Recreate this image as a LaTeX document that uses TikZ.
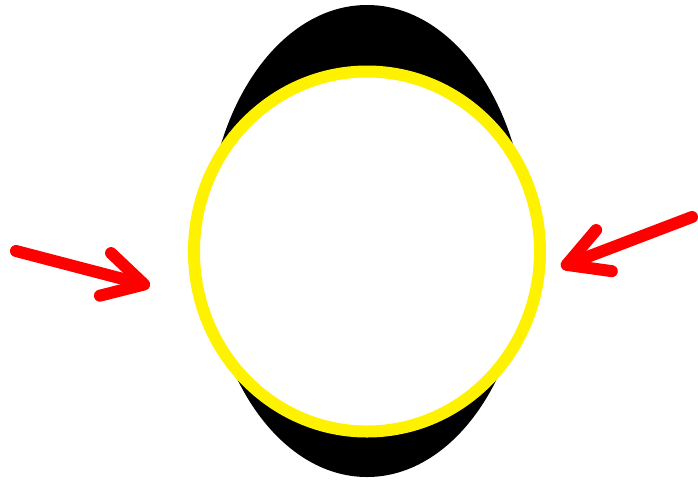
\documentclass[tikz,border=0pt]{standalone}
\usepackage{tikz}
\usetikzlibrary{arrows.meta}

\begin{document}
\begin{tikzpicture}[x=1pt, y=-1pt]
    \useasboundingbox (0, 0) rectangle (698, 483);

    % Elipse preta
    \fill[black] (367, 241) ellipse [x radius=160, y radius=236];

    % Anel amarelo
    \draw[fill=white, draw=yellow, line width=12pt] (367, 251.5) ellipse [x radius=173, y radius=180];

    % Setas
    \coordinate (L0) at (16, 251);
    \coordinate (L1) at (150, 286);
    \coordinate (R0) at (692, 217);
    \coordinate (R1) at (561, 267);
    \draw[red, line width=12pt, line cap=round, -{Straight Barb[length=40pt, width=44pt, line cap=round, line join=round]}] (L0) -- (L1);
    \draw[red, line width=12pt, line cap=round, -{Straight Barb[length=40pt, width=44pt, line cap=round, line join=round]}] (R0) -- (R1);
\end{tikzpicture}
\end{document}
